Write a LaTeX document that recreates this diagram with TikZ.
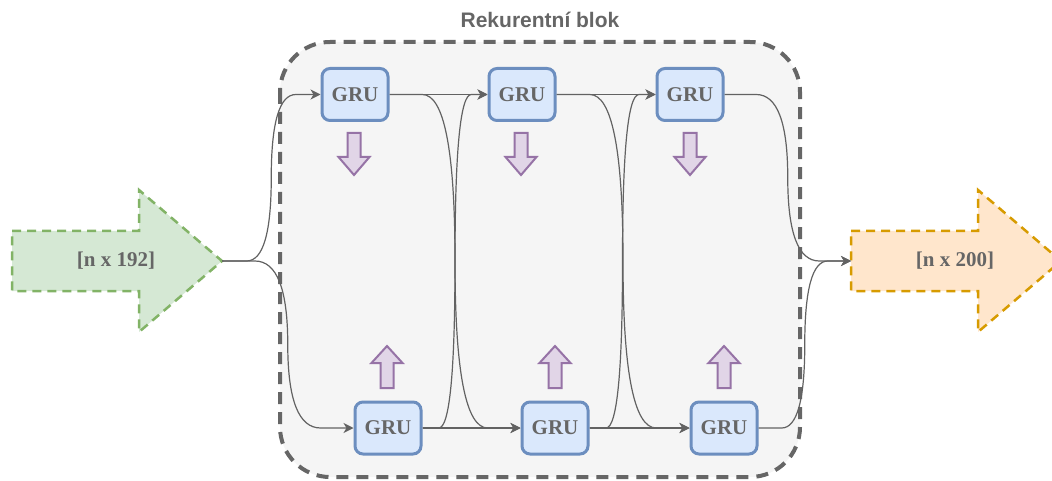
\documentclass[tikz,border=0pt]{standalone}
\usepackage{fontspec}
\setmainfont{Liberation Serif}
\newfontfamily\titlefont{Liberation Sans}
\usetikzlibrary{arrows.meta,calc}

\definecolor{txtgray}{HTML}{666666}
\definecolor{linkgray}{HTML}{626262}
\definecolor{blkfill}{HTML}{F5F5F5}
\definecolor{blkline}{HTML}{666666}
\definecolor{grufill}{HTML}{DAE8FC}
\definecolor{gruline}{HTML}{6C8EBF}
\definecolor{infill}{HTML}{D5E8D4}
\definecolor{inline}{HTML}{82B366}
\definecolor{outfill}{HTML}{FFE6CC}
\definecolor{outline}{HTML}{D79B00}
\definecolor{hintfill}{HTML}{E1D5E7}
\definecolor{hintline}{HTML}{9673A6}

\tikzset{
  lbl/.style={font=\fontsize{21}{25}\selectfont\bfseries, text=txtgray},
  gru/.style={draw=gruline, fill=grufill, line width=3pt, rounded corners=8pt,
    minimum width=66pt, minimum height=52pt, inner sep=0pt, lbl},
  link/.style={draw=linkgray, line width=1.2pt, -{Stealth[length=10pt,width=10pt,inset=3pt]}},
  hint/.style={draw=hintline, fill=hintfill, line width=2pt, line join=miter},
  bigarrow/.style={line width=2.5pt, dash pattern=on 9pt off 6pt, line join=miter},
}

% drawio-style curved orthogonal edge: horizontal, vertical at mid x, horizontal
\newcommand\curvedlink[2]{%
  \draw[link] let \p1=(#1), \p2=(#2) in
    (\p1) -- ({0.75*\x1+0.25*\x2},\y1)
    .. controls ({\x1/6+5*(\x1+\x2)/12},\y1) and ({(\x1+\x2)/2},{5*\y1/6+\y2/6}) ..
    ({(\x1+\x2)/2},{(\y1+\y2)/2})
    .. controls ({(\x1+\x2)/2},{\y1/6+5*\y2/6}) and ({5*(\x1+\x2)/12+\x2/6},\y2) ..
    ({0.25*\x1+0.75*\x2},\y2) -- (\p2);}

% down / up hint arrows: centre x, top y
\newcommand\downhint[2]{%
  \draw[hint] (#1-6.5,#2) -- (#1+6.5,#2) -- (#1+6.5,#2+24) -- (#1+15.5,#2+24)
    -- (#1,#2+42) -- (#1-15.5,#2+24) -- (#1-6.5,#2+24) -- cycle;}
\newcommand\uphint[2]{%
  \draw[hint] (#1,#2) -- (#1+15.5,#2+17) -- (#1+6.5,#2+17) -- (#1+6.5,#2+42)
    -- (#1-6.5,#2+42) -- (#1-6.5,#2+17) -- (#1-15.5,#2+17) -- cycle;}

\begin{document}
\begin{tikzpicture}[x=1pt,y=-1pt]
\useasboundingbox (0,0) rectangle (1052,481);

% recurrent block container
\draw[draw=blkline, fill=blkfill, line width=4pt, dash pattern=on 12pt off 8pt,
  rounded corners=50pt] (280,42) rectangle (800,477);
\node[font=\titlefont\fontsize{21}{25}\selectfont\bfseries, text=txtgray] (title) at (540,20) {Rekurentní blok};

% input arrow
\draw[bigarrow, draw=inline, fill=infill]
  (12,231) -- (139,231) -- (139,190) -- (222,261) -- (139,332) -- (139,291) -- (12,291) -- cycle;
\node[lbl] (inlabel) at (116,261) {[n x 192]};
\coordinate (intip) at (222,261);

% output arrow (tip runs past the right edge)
\begin{scope}
\clip (0,0) rectangle (1052,481);
\draw[bigarrow, draw=outline, fill=outfill]
  (851,231) -- (978,231) -- (978,190) -- (1061,261) -- (978,332) -- (978,291) -- (851,291) -- cycle;
\end{scope}
\node[lbl] (outlabel) at (955,261) {[n x 200]};
\coordinate (outtail) at (851,261);

% GRU cells
\node[gru] (t1) at (355,94.5) {GRU};
\node[gru] (t2) at (522,94.5) {GRU};
\node[gru] (t3) at (690,94.5) {GRU};
\node[gru] (b1) at (388,428) {GRU};
\node[gru] (b2) at (555,428) {GRU};
\node[gru] (b3) at (724,428) {GRU};

% direction hints
\downhint{354}{133}
\downhint{521}{133}
\downhint{690}{133}
\uphint{387}{346}
\uphint{555}{346}
\uphint{724}{346}

% connections
\curvedlink{intip}{t1.west}
\curvedlink{intip}{b1.west}
\draw[link] (t1.east) -- (t2.west);
\draw[link] (t2.east) -- (t3.west);
\draw[link] (b1.east) -- (b2.west);
\draw[link] (b2.east) -- (b3.west);
\curvedlink{t1.east}{b2.west}
\curvedlink{b1.east}{t2.west}
\curvedlink{t2.east}{b3.west}
\curvedlink{b2.east}{t3.west}
\curvedlink{t3.east}{outtail}
\curvedlink{b3.east}{outtail}
\end{tikzpicture}
\end{document}
